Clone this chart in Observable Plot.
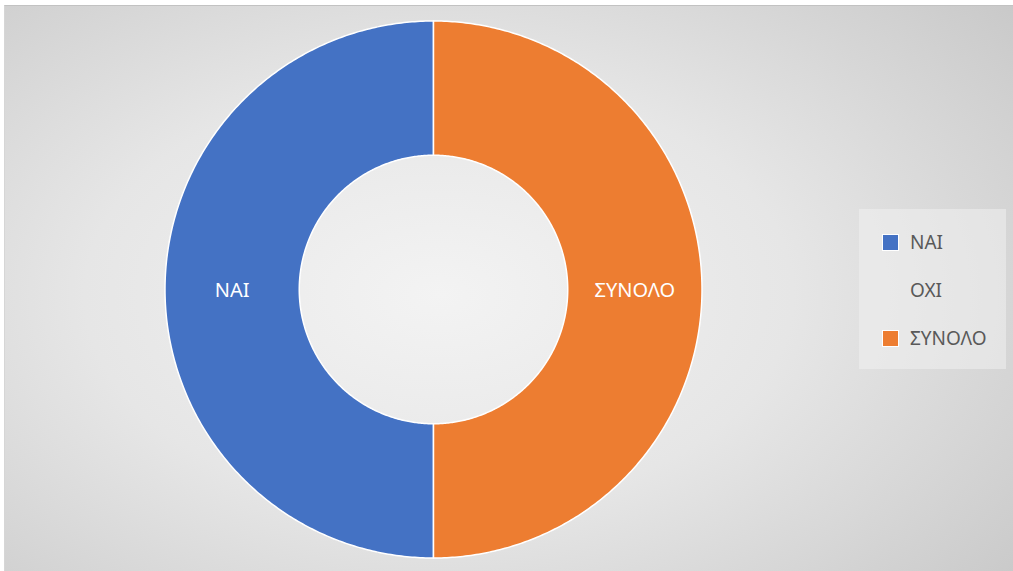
<!DOCTYPE html>
<html>
<head>
<meta charset="utf-8">
<script src="https://cdn.jsdelivr.net/npm/d3@7"></script>
<script src="https://cdn.jsdelivr.net/npm/@observablehq/plot@0.6"></script>
<style>
  html, body { margin: 0; padding: 0; background: #ffffff; width: 1013px; height: 571px; overflow: hidden; }
  #frame {
    position: absolute; left: 4px; top: 5px; width: 1009px; height: 566px;
    border-top: 1.5px solid #c2c2c2; border-left: 1px solid #d6d6d6;
    background: radial-gradient(ellipse 78% 85% at 43% 51%, #f3f3f3 0%, #e6e6e6 45%, #c6c6c6 100%);
  }
  #chart { position: absolute; left: 0; top: 0; }
  #legend {
    position: absolute; left: 859px; top: 209px; width: 147px; height: 160px;
    background: rgba(240,240,240,0.55);
    font-family: "Noto Sans", sans-serif; font-size: 19px; color: #595959;
  }
  .item { position: absolute; left: 23px; height: 20px; display: flex; align-items: center; }
  .sw { width: 17px; height: 17px; border: 1px solid #fff; margin-right: 11px; box-sizing: border-box; }
  .sw.none { border: none; background: transparent !important; }
</style>
</head>
<body>
<div id="frame"></div>
<div id="chart"></div>
<div id="legend"></div>
<script>
// ---- data ----
const categories = ["ΝΑΙ", "ΟΧΙ", "ΣΥΝΟΛΟ"];
const values = [1, 0, 1];
const colors = ["#4472c4", "#a5a5a5", "#ed7d31"];

// ---- layout ----
const W = 1013, H = 571;
const cx = 433, cy = 289, R = 268.5, innerRatio = 0.5;

const rows = categories.map((c, i) => ({cat: c, value: values[i]}));
const arcs = d3.pie().sort(null).value(d => d.value)(rows);

// polygon outlines for each slice (counter-clockwise from 12 o'clock), unit-radius data coords
const px = t => -Math.sin(t), py = t => Math.cos(t);
const pts = [];
for (const a of arcs) {
  if (a.endAngle - a.startAngle <= 0) continue;
  const n = Math.max(2, Math.ceil((a.endAngle - a.startAngle) / 0.01));
  const outer = d3.range(n + 1).map(k => a.startAngle + (a.endAngle - a.startAngle) * k / n);
  for (const t of outer) pts.push({cat: a.data.cat, x: px(t), y: py(t)});
  for (const t of outer.slice().reverse()) pts.push({cat: a.data.cat, x: innerRatio * px(t), y: innerRatio * py(t)});
  pts.push({cat: a.data.cat, x: px(a.startAngle), y: py(a.startAngle)});
}
const labels = arcs.filter(a => a.data.value > 0).map(a => {
  const m = (a.startAngle + a.endAngle) / 2, r = (1 + innerRatio) / 2;
  return {cat: a.data.cat, x: r * px(m), y: r * py(m)};
});

const plot = Plot.plot({
  width: W, height: H,
  margin: 0,
  style: {background: "transparent", overflow: "visible"},
  x: {domain: [-cx / R, (W - cx) / R], axis: null},
  y: {domain: [-(H - cy) / R, cy / R], axis: null},
  color: {domain: categories, range: colors},
  marks: [
    Plot.line(pts, {x: "x", y: "y", z: "cat", fill: "cat", stroke: "white", strokeWidth: 1.5, curve: "linear"}),
    Plot.text(labels, {x: "x", y: "y", text: "cat", fill: "white", fontSize: 20, fontFamily: "Noto Sans", dy: 1})
  ]
});
document.getElementById("chart").appendChild(plot);

// legend
const lg = document.getElementById("legend");
categories.forEach((c, i) => {
  const it = document.createElement("div");
  it.className = "item";
  it.style.top = (23 + i * 48) + "px";
  const sw = document.createElement("div");
  sw.className = "sw" + (values[i] > 0 ? "" : " none");
  sw.style.background = colors[i];
  const tx = document.createElement("span");
  tx.textContent = c;
  it.appendChild(sw); it.appendChild(tx);
  lg.appendChild(it);
});
</script>
</body>
</html>
